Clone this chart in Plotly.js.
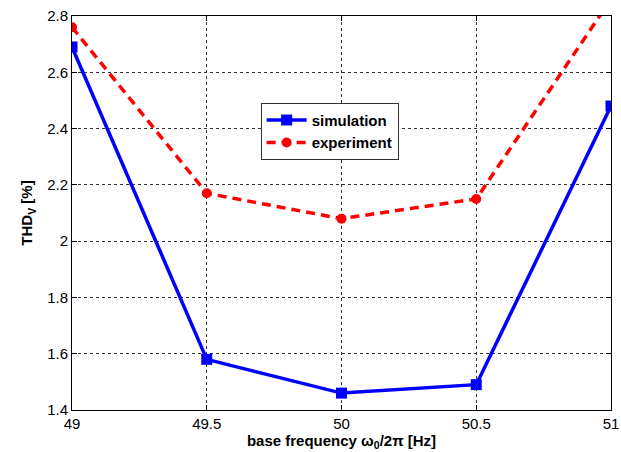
<!DOCTYPE html>
<html>
<head>
<meta charset="utf-8">
<script src="https://cdn.plot.ly/plotly-3.0.1.min.js"></script>
<style>html,body{margin:0;padding:0;background:#fff;}#chart{width:621px;height:452px;}</style>
</head>
<body>
<div id="chart"></div>
<script>
var freq = [49, 49.5, 50, 50.5, 51];
var simulation = [2.69, 1.58, 1.46, 1.49, 2.48];
var experiment = [2.76, 2.17, 2.08, 2.15, 2.86];
var xTicks = [49, 49.5, 50, 50.5, 51];
var yTicks = [1.4, 1.6, 1.8, 2, 2.2, 2.4, 2.6, 2.8];

var traces = [
  {x: freq, y: simulation, name: 'simulation', mode: 'lines+markers',
   line: {color: '#0000ff', width: 3.5},
   marker: {symbol: 'square', size: 11, color: '#0000ff'}},
  {x: freq, y: experiment, name: 'experiment', mode: 'lines+markers',
   line: {color: '#ff0000', width: 3.5, dash: '9px,6px'},
   marker: {symbol: 'circle', size: 10, color: '#ff0000'}}
];

var axisCommon = {
  showline: true, mirror: 'ticks', linecolor: '#000', linewidth: 1,
  ticks: 'inside', ticklen: 5, tickcolor: '#000',
  showgrid: true, gridcolor: '#333', griddash: 'dot', gridwidth: 1,
  zeroline: false,
  tickfont: {family: 'Liberation Sans, Arial', size: 15, color: '#000'}
};

var layout = {
  width: 621, height: 452,
  margin: {l: 72, r: 10, t: 16, b: 42},
  paper_bgcolor: '#fff', plot_bgcolor: '#fff',
  showlegend: true,
  legend: {x: 0.35, y: 0.78, xanchor: 'left', yanchor: 'top',
    bordercolor: '#333', borderwidth: 1, bgcolor: '#fff',
    font: {family: 'Liberation Sans, Arial', size: 15, color: '#000', weight: 'bold'},
    tracegroupgap: 0, itemwidth: 40},
  xaxis: Object.assign({}, axisCommon, {
    range: [49, 51], tickvals: xTicks, ticktext: xTicks.map(String),
    title: {text: 'base frequency ω<sub>0</sub>/2π [Hz]', standoff: 4,
      font: {family: 'Liberation Sans, Arial', size: 15, color: '#000', weight: 'bold'}}
  }),
  yaxis: Object.assign({}, axisCommon, {
    range: [1.4, 2.8], tickvals: yTicks, ticktext: yTicks.map(String),
    title: {text: 'THD<sub>V</sub> [%]', standoff: 10,
      font: {family: 'Liberation Sans, Arial', size: 15, color: '#000', weight: 'bold'}}
  })
};

Plotly.newPlot('chart', traces, layout, {displayModeBar: false, staticPlot: true});
</script>
</body>
</html>
